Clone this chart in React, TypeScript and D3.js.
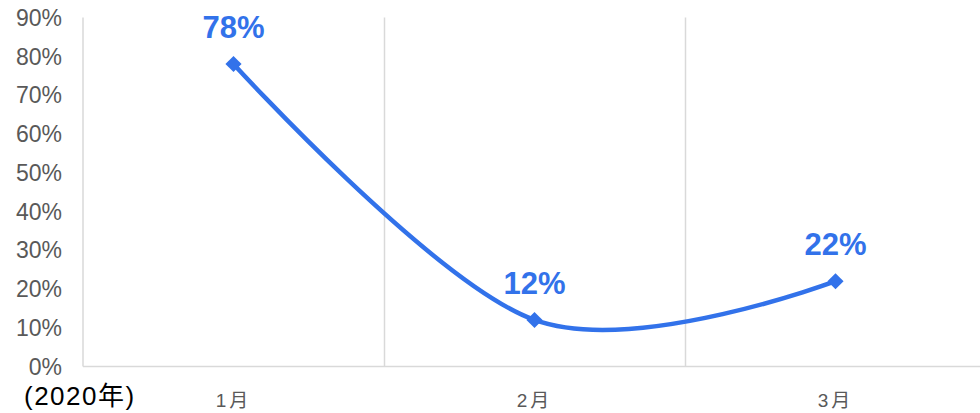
import { useEffect, useRef } from 'react';
import * as d3 from 'd3';

const months = ['1月', '2月', '3月'];
const rates = [78, 12, 22];
const yTicks = [0, 10, 20, 30, 40, 50, 60, 70, 80, 90];
const yearLabel = '(2020年)';

const W = 980;
const H = 413;
const BLUE = '#3272EA';
const GRID = '#d9d9d9';
const GREY = '#595959';

export default function App() {
  const svgRef = useRef<SVGSVGElement>(null);

  useEffect(() => {
    if (!svgRef.current) return;
    const svg = d3.select(svgRef.current);
    svg.selectAll('*').remove();

    const left = 83;
    const band = 301;
    const top = 17.5;
    const bottom = 366.5;

    const x = d3.scaleBand<string>()
      .domain(months)
      .range([left, left + band * months.length])
      .padding(0);
    const y = d3.scaleLinear().domain([0, 90]).range([bottom, top]);
    const cx = (m: string) => (x(m) || 0) + x.bandwidth() / 2;

    const font = '"Liberation Sans", Arial, "Noto Sans CJK SC", sans-serif';

    // vertical gridlines between categories
    months.forEach((m, i) => {
      if (i === 0) return;
      svg.append('line')
        .attr('x1', x(m)! + 0.5).attr('x2', x(m)! + 0.5)
        .attr('y1', top).attr('y2', bottom)
        .attr('stroke', GRID).attr('stroke-width', 1.5);
    });

    // value axis line
    svg.append('line')
      .attr('x1', left).attr('x2', left)
      .attr('y1', top).attr('y2', bottom)
      .attr('stroke', GRID).attr('stroke-width', 1.5);

    // category baseline
    svg.append('line')
      .attr('x1', left).attr('x2', W)
      .attr('y1', bottom).attr('y2', bottom)
      .attr('stroke', GRID).attr('stroke-width', 1.5);

    // y tick labels
    svg.append('g')
      .selectAll('text')
      .data(yTicks)
      .join('text')
      .attr('x', 62)
      .attr('y', d => y(d))
      .attr('dy', '0.36em')
      .attr('text-anchor', 'end')
      .attr('font-family', font)
      .attr('font-size', 23)
      .attr('fill', GREY)
      .text(d => `${d}%`);

    // category labels
    svg.append('g')
      .selectAll('text')
      .data(months)
      .join('text')
      .attr('x', d => cx(d))
      .attr('y', 407)
      .attr('text-anchor', 'middle')
      .attr('font-family', font)
      .attr('font-size', 19)
      .attr('letter-spacing', 3)
      .attr('fill', GREY)
      .text(d => d);

    svg.append('text')
      .attr('x', 24)
      .attr('y', 405)
      .attr('font-family', font)
      .attr('font-size', 26)
      .attr('letter-spacing', 1.5)
      .attr('fill', '#000')
      .text(yearLabel);

    const pts: [number, number][] = months.map((m, i) => [cx(m), y(rates[i])]);

    const line = d3.line().curve(d3.curveCardinal.tension(0));
    svg.append('path')
      .attr('d', line(pts))
      .attr('fill', 'none')
      .attr('stroke', BLUE)
      .attr('stroke-width', 4.5)
      .attr('stroke-linecap', 'round');

    // diamond markers
    const sym = d3.symbol().type(d3.symbolSquare).size(130);
    svg.append('g')
      .selectAll('path')
      .data(pts)
      .join('path')
      .attr('d', sym)
      .attr('transform', d => `translate(${d[0]},${d[1]}) rotate(45)`)
      .attr('fill', BLUE);

    // data labels
    svg.append('g')
      .selectAll('text')
      .data(pts)
      .join('text')
      .attr('x', d => d[0])
      .attr('y', d => d[1] - 26)
      .attr('text-anchor', 'middle')
      .attr('font-family', font)
      .attr('font-weight', 'bold')
      .attr('font-size', 31)
      .attr('fill', BLUE)
      .text((_, i) => `${rates[i]}%`);
  }, []);

  return (
    <svg
      ref={svgRef}
      width={W}
      height={H}
      style={{ position: 'absolute', left: 0, top: 0, background: '#fff' }}
    />
  );
}
